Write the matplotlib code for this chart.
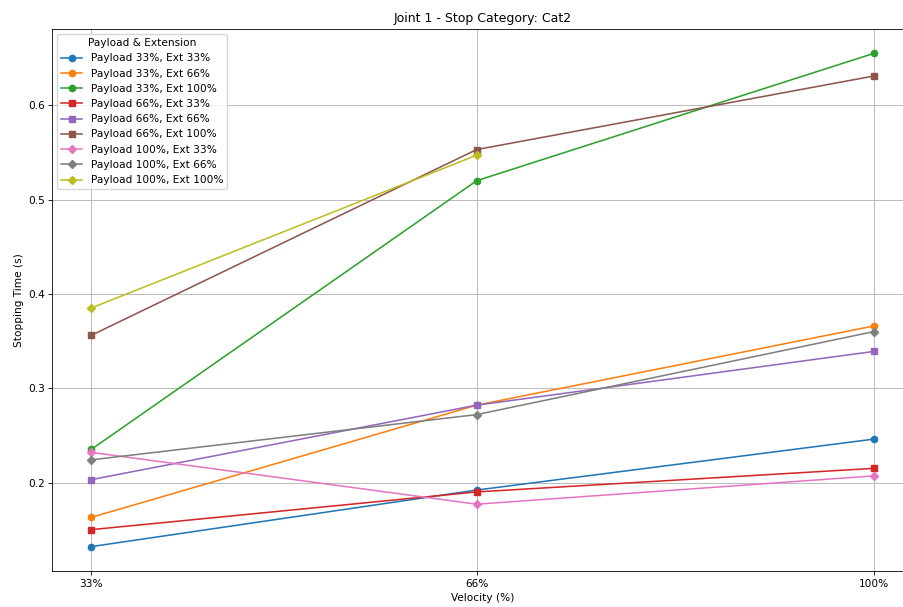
import numpy as np
import matplotlib
matplotlib.use("Agg")
import matplotlib.pyplot as plt

velocity = [33, 66, 100]
tick_labels = ["33%", "66%", "100%"]

labels = [
    "Payload 33%, Ext 33%", "Payload 33%, Ext 66%", "Payload 33%, Ext 100%",
    "Payload 66%, Ext 33%", "Payload 66%, Ext 66%", "Payload 66%, Ext 100%",
    "Payload 100%, Ext 33%", "Payload 100%, Ext 66%", "Payload 100%, Ext 100%",
]
markers = ["o", "o", "o", "s", "s", "s", "D", "D", "D"]

p33_e33 = [0.132, 0.192, 0.246]
p33_e66 = [0.163, 0.282, 0.366]
p33_e100 = [0.235, 0.520, 0.655]
p66_e33 = [0.150, 0.190, 0.215]
p66_e66 = [0.203, 0.282, 0.339]
p66_e100 = [0.356, 0.553, 0.631]
p100_e33 = [0.232, 0.177, 0.207]
p100_e66 = [0.224, 0.272, 0.360]
p100_e100 = [0.385, 0.547, np.nan]

series = [p33_e33, p33_e66, p33_e100, p66_e33, p66_e66, p66_e100,
          p100_e33, p100_e66, p100_e100]

s = 0.753
plt.rcParams.update({
    "font.size": 10 * s,
    "lines.linewidth": 1.5 * s,
    "lines.markersize": 6 * s,
    "axes.linewidth": 0.8 * s,
    "grid.linewidth": 0.8 * s,
    "xtick.major.width": 0.8 * s,
    "ytick.major.width": 0.8 * s,
    "xtick.major.size": 3.5 * s,
    "ytick.major.size": 3.5 * s,
    "xtick.major.pad": 3.5 * s,
    "ytick.major.pad": 3.5 * s,
    "axes.titlepad": 6 * s,
    "axes.labelpad": 4 * s,
})

fig = plt.figure(figsize=(9.04, 6.07), dpi=100)
ax = fig.add_axes([52 / 904, 1 - 571.3 / 607, (913 - 52) / 904, (571.3 - 28.7) / 607])

for vals, lab, m in zip(series, labels, markers):
    ax.plot(velocity, vals, marker=m, label=lab)

ax.set_xticks(velocity)
ax.set_xticklabels(tick_labels)
ax.set_xlabel("Velocity (%)")
ax.set_ylabel("Stopping Time (s)")
ax.set_title("Joint 1 - Stop Category: Cat2")
ax.grid(True)
ax.legend(title="Payload & Extension", loc="upper left")

fig.savefig("out.png", dpi=100)
